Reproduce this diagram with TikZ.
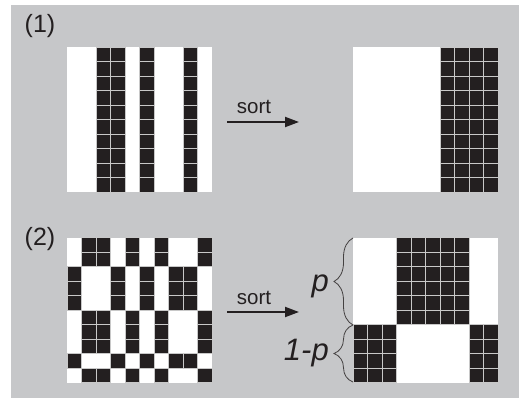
\documentclass[tikz,border=0pt]{standalone}
\usepackage{fontspec}
\setmainfont{Liberation Sans}
\usetikzlibrary{decorations.pathreplacing,arrows.meta}
\definecolor{panel}{HTML}{C6C7C9}
\definecolor{ink}{HTML}{231F20}
\definecolor{gapc}{HTML}{C8C8C8}
\tikzset{
  cell/.style={fill=ink, draw=gapc, line width=0.9pt},
  board/.style={fill=white, draw=none, minimum size=145pt, inner sep=0pt, anchor=north west},
  sortarrow/.style={-{Triangle[length=14pt,width=10pt]}, line width=2pt, draw=ink},
  lab/.style={font=\fontsize{25}{28}\selectfont, text=ink, inner sep=0pt},
  sortlab/.style={font=\fontsize{20.5}{24}\selectfont, text=ink, inner sep=0pt},
  plab/.style={font=\fontsize{31}{34}\selectfont\itshape, text=ink, inner sep=0pt},
  curly/.style={decorate, decoration={brace, amplitude=19pt}, line width=0.8pt, draw=ink!85},
}
\begin{document}
\begin{tikzpicture}[x=1pt, y=-1pt]
\useasboundingbox (0,0) rectangle (519,399);
\fill[panel] (11,5) rectangle (519,398);
% boards
\node[board] (g1) at (67,47) {};
\node[board] (g2) at (353,47) {};
\node[board] (g3) at (67,237.5) {};
\node[board] (g4) at (353,237.5) {};
% grid 1
\foreach \c in {2,3,5,8} \foreach \r in {0,...,9}
  \path[cell] (67+\c*14.5, 47+\r*14.5) rectangle ++(14.5,14.5);
% grid 2
\foreach \c in {6,7,8,9} \foreach \r in {0,...,9}
  \path[cell] (353+\c*14.5, 47+\r*14.5) rectangle ++(14.5,14.5);
% grid 3
\foreach \r in {0,1,5,6,7,9} \foreach \c in {1,2,4,6,9}
  \path[cell] (67+\c*14.5, 237.5+\r*14.5) rectangle ++(14.5,14.5);
\foreach \r in {2,3,4,8} \foreach \c in {0,3,5,7,8}
  \path[cell] (67+\c*14.5, 237.5+\r*14.5) rectangle ++(14.5,14.5);
% grid 4
\foreach \r in {0,...,5} \foreach \c in {3,...,7}
  \path[cell] (353+\c*14.5, 237.5+\r*14.5) rectangle ++(14.5,14.5);
\foreach \r in {6,...,9} \foreach \c in {0,1,2,8,9}
  \path[cell] (353+\c*14.5, 237.5+\r*14.5) rectangle ++(14.5,14.5);
% labels
\node[lab] (l1) at (40,26) {(1)};
\node[lab] (l2) at (40,239) {(2)};
% arrows
\coordinate (a1s) at (227,122);
\coordinate (a1e) at (299,122);
\coordinate (a2s) at (227,312);
\coordinate (a2e) at (299,312);
\draw[sortarrow] (a1s) -- (a1e);
\draw[sortarrow] (a2s) -- (a2e);
\node[sortlab, anchor=base] (s1) at (254,113) {sort};
\node[sortlab, anchor=base] (s2) at (254,304) {sort};
% braces
\coordinate (b0) at (353,238);
\coordinate (b1) at (353,325);
\coordinate (b2) at (353,382);
\draw[curly] (b1) -- (b0);
\draw[curly] (b2) -- (b1);
\node[plab, anchor=base east] (p1) at (329,291) {p};
\node[plab, anchor=base east] (p2) at (329,360) {1-p};
\end{tikzpicture}
\end{document}
